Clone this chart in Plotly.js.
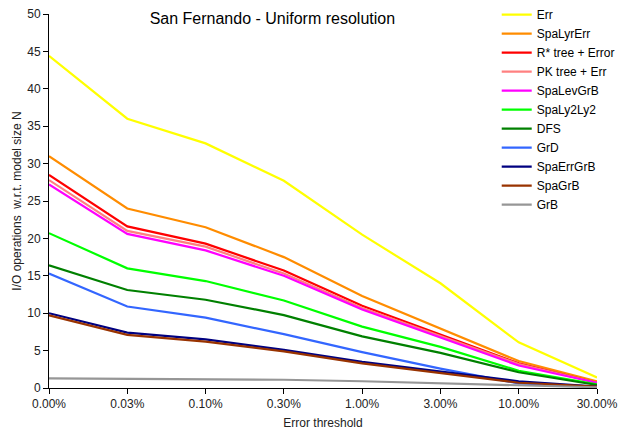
<!DOCTYPE html>
<html><head><meta charset="utf-8">
<script src="https://cdn.plot.ly/plotly-3.0.1.min.js"></script>
<style>html,body{margin:0;padding:0;background:#fff}</style>
</head><body>
<div id="chart" style="width:619px;height:435px"></div>
<script>
const categories = ["0.00%","0.03%","0.10%","0.30%","1.00%","3.00%","10.00%","30.00%"];
const seriesNames = ["Err","SpaLyrErr","R* tree + Error","PK tree + Err","SpaLevGrB","SpaLy2Ly2","DFS","GrD","SpaErrGrB","SpaGrB","GrB"];
const seriesColors = ["#ffff00","#ff8c00","#ff0000","#ff8080","#ff00ff","#00ff00","#008000","#3366ff","#000080","#993300","#969696"];
const Err        = [44.4, 36.0, 32.7, 27.7, 20.5, 14.0, 6.1, 1.4];
const SpaLyrErr  = [31.0, 24.0, 21.5, 17.5, 12.3, 8.0, 3.6, 0.9];
const RStarErr   = [28.5, 21.6, 19.3, 15.7, 11.0, 7.1, 3.3, 0.7];
const PKErr      = [27.8, 21.0, 18.9, 15.3, 10.7, 6.9, 3.2, 0.7];
const SpaLevGrB  = [27.2, 20.6, 18.4, 15.0, 10.5, 6.8, 3.0, 0.7];
const SpaLy2Ly2  = [20.7, 16.0, 14.3, 11.7, 8.2, 5.5, 2.3, 0.5];
const DFS        = [16.4, 13.1, 11.8, 9.75, 6.9, 4.7, 2.1, 0.4];
const GrD        = [15.3, 10.9, 9.4, 7.2, 4.8, 2.6, 0.6, 0.2];
const SpaErrGrB  = [10.0, 7.4, 6.5, 5.1, 3.5, 2.2, 0.9, 0.2];
const SpaGrB     = [9.7, 7.1, 6.2, 4.9, 3.3, 2.0, 0.7, 0.2];
const GrB        = [1.3, 1.25, 1.2, 1.1, 0.9, 0.6, 0.3, 0.1];
const allSeries = [Err, SpaLyrErr, RStarErr, PKErr, SpaLevGrB, SpaLy2Ly2, DFS, GrD, SpaErrGrB, SpaGrB, GrB];

const font = "Liberation Sans, Arial, sans-serif";
const traces = allSeries.map((vals, i) => ({
  type: "scatter", mode: "lines", x: categories, y: vals, name: seriesNames[i],
  line: {color: seriesColors[i], width: 2.2}
}));

const layout = {
  width: 619, height: 435,
  margin: {l: 49, r: 22, t: 14, b: 47, autoexpand: false},
  paper_bgcolor: "#fff", plot_bgcolor: "#fff",
  font: {family: font, size: 12, color: "#222"},
  showlegend: true,
  title: {text: "San Fernando - Uniform resolution", font: {family: font, size: 16, color: "#000"}, x: 0.44, xanchor: "center", y: 0.958, yanchor: "middle"},
  legend: {x: 0.817, y: 1.037, xanchor: "left", yanchor: "top", bgcolor: "rgba(0,0,0,0)", font: {family: font, size: 12, color: "#000"}, tracegroupgap: 0, itemwidth: 30},
  xaxis: {
    type: "category", range: [0, 7], showgrid: false, zeroline: false,
    showline: true, linecolor: "#000", linewidth: 1,
    ticks: "outside", ticklen: 5, tickcolor: "#000",
    tickfont: {family: font, size: 12, color: "#222"},
    title: {text: "Error threshold", font: {family: font, size: 12, color: "#222"}, standoff: 8}
  },
  yaxis: {
    range: [0, 50], dtick: 5, showgrid: false, zeroline: false,
    showline: true, linecolor: "#000", linewidth: 1,
    ticks: "outside", ticklen: 5, tickcolor: "#000",
    tickfont: {family: font, size: 12, color: "#222"},
    title: {text: "I/O operations  w.r.t. model size N", font: {family: font, size: 12, color: "#222"}, standoff: 3}
  }
};
Plotly.newPlot("chart", traces, layout, {displayModeBar: false, staticPlot: true});
</script>
</body></html>
